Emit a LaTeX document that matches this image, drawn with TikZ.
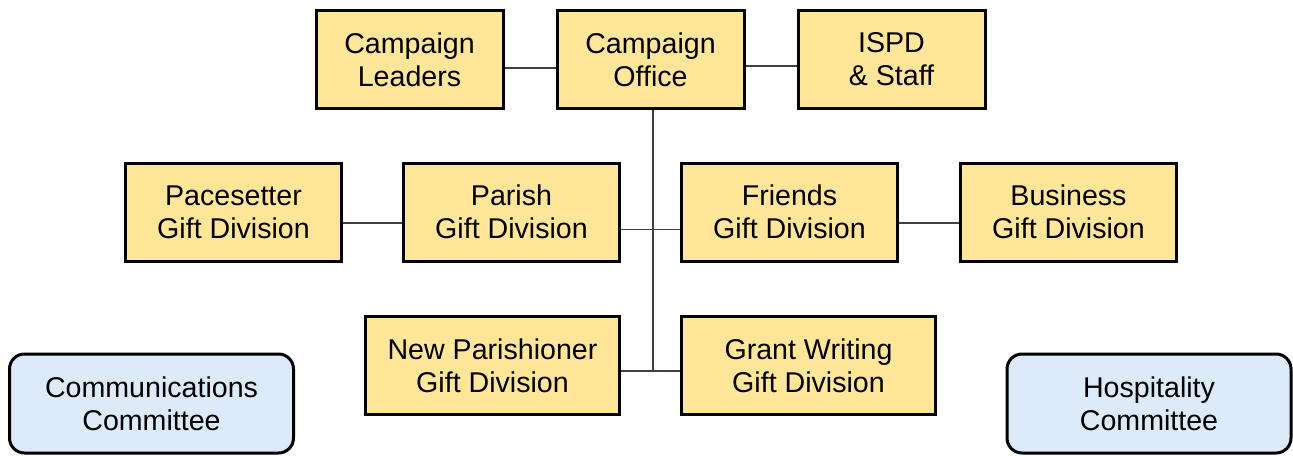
\documentclass[tikz,border=0pt]{standalone}
\usepackage{fontspec}
\setmainfont{Liberation Sans}
\usepackage{xcolor}
\usepackage{tikz}
\usetikzlibrary{calc, positioning}

\definecolor{boxyellow}{HTML}{FFE699}
\definecolor{boxblue}{HTML}{DCEAFA}
\definecolor{linegray}{HTML}{404040}

\begin{document}
\begin{tikzpicture}[x=0.5pt, y=-0.5pt]
            % Block styles
            \tikzstyle{block} = [rectangle, draw, line width=1.5pt, fill=boxyellow, align=center, inner sep=0pt, minimum height=49pt, font=\fontsize{14.3}{16.5}\selectfont]
            \tikzstyle{block_top} = [block, minimum width=93.5pt]
            \tikzstyle{block_mid} = [block, minimum width=108pt]
            \tikzstyle{block_low} = [block, minimum width=127pt]
            \tikzstyle{committee} = [block, fill=boxblue, rounded corners=7.5pt, minimum width=142pt, minimum height=49.5pt]
            \tikzstyle{conn} = [draw=linegray, line width=0.75pt]
            \useasboundingbox (0,0) rectangle (1293,455);
            % Top row
            \node[block_top] (office) at (650.5,59.5) {Campaign\\Office};
            \node[block_top, left=25.5pt of office] (leaders) {Campaign\\Leaders};
            \node[block_top, right=25.5pt of office] (ispd) {ISPD\\\& Staff};
            % Divisions
            \node[block_mid] (parish) at (511.5,212) {Parish\\Gift Division};
            \node[block_mid, left=29.5pt of parish] (pacesetter) {Pacesetter\\Gift Division};
            \node[block_mid, right=29.5pt of parish] (friends) {Friends\\Gift Division};
            \node[block_mid, right=30pt of friends] (business) {Business\\Gift Division};
            \node[block_low] (newpar) at (492.5,365.5) {New Parishioner\\Gift Division};
            \node[block_low, right=29.5pt of newpar] (grant) {Grant Writing\\Gift Division};
            % Committees
            \node[committee] (comms) at (151.5,403.5) {Communications\\Committee};
            \node[committee] (hosp) at (1149,403.5) {Hospitality\\Committee};
            % Connections
            \coordinate (spine) at (653,371);
            \draw[conn] ([yshift=-4.25pt]leaders.east) -- ([yshift=-4.25pt]office.west);
            \draw[conn] ([yshift=-3.25pt]office.east) -- ([yshift=-3.25pt]ispd.west);
            \draw[conn] (office.south -| spine) -- (spine);
            \draw[conn] ([yshift=-5.5pt]pacesetter.east) -- ([yshift=-5.5pt]parish.west);
            \draw[conn] ([yshift=-8.75pt]parish.east) -- ([yshift=-8.75pt]friends.west);
            \draw[conn] ([yshift=-5.5pt]friends.east) -- ([yshift=-5.5pt]business.west);
            \draw[conn] (newpar.east |- spine) -- (grant.west |- spine);
        \end{tikzpicture}
\end{document}
